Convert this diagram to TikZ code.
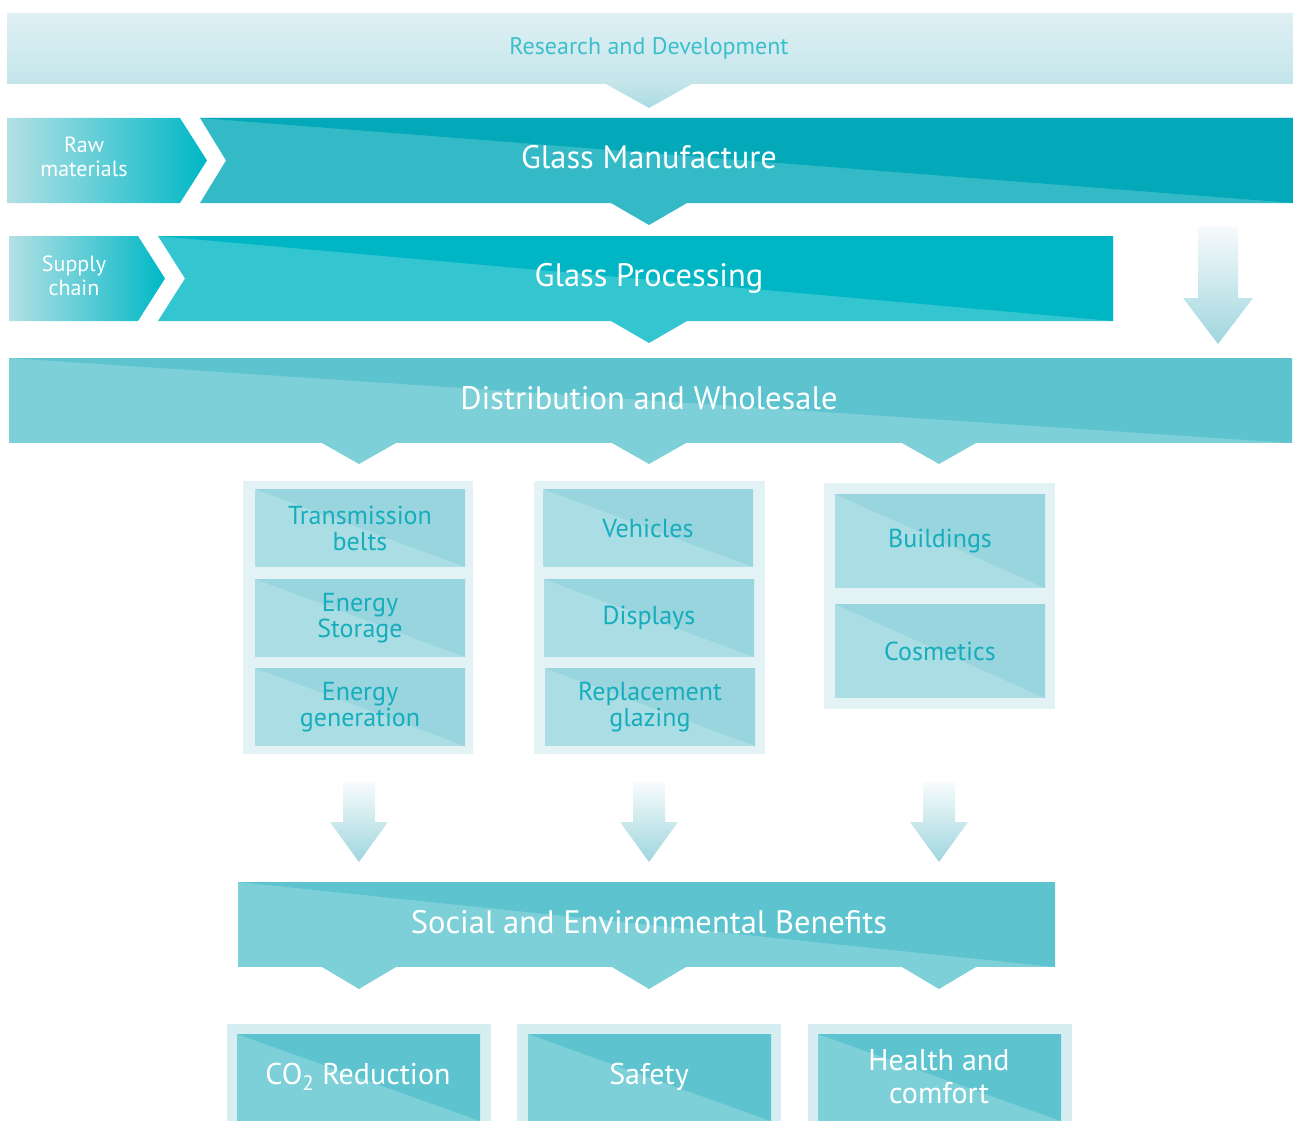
\documentclass[tikz,border=0pt]{standalone}
\usepackage{fontspec}
\setmainfont{PT Sans}
\definecolor{rdtop}{HTML}{DFF0F4}
\definecolor{rdbot}{HTML}{C3E5EA}
\definecolor{rdtext}{HTML}{3CBFCB}
\definecolor{rdtri}{HTML}{A8DBE2}
\definecolor{rawl}{HTML}{B3E0E5}
\definecolor{rawr}{HTML}{00B8C6}
\definecolor{gmdark}{HTML}{04A9B9}
\definecolor{gmlight}{HTML}{33BAC6}
\definecolor{gpdark}{HTML}{00B6C5}
\definecolor{gplight}{HTML}{33C5D0}
\definecolor{dwdark}{HTML}{5DC4CF}
\definecolor{dwlight}{HTML}{7DD0D8}
\definecolor{ibdark}{HTML}{98D5DE}
\definecolor{iblight}{HTML}{ABDDE4}
\definecolor{outerbg}{HTML}{E3F2F5}
\definecolor{outerbg2}{HTML}{D6EEF1}
\definecolor{ibtext}{HTML}{16ADBD}
\definecolor{arrtop}{HTML}{F7FBFC}
\definecolor{arrbot}{HTML}{9FD6DE}
\newcommand\twotone[6]{%
  \fill[#5] (#1,#2) rectangle (#3,#4);
  \fill[#6] (#1,#2) -- (#3,#2) -- (#3,#4) -- cycle;}
\newcommand\downtri[5]{%
  \fill[#5] (#1-#3,#2) -- (#1+#3,#2) -- (#1,#4) -- cycle;}
\newcommand\gradarrow[6]{%
  \shade[top color=arrtop, bottom color=arrbot]
    (#1-#5,#2) -- (#1+#5,#2) -- (#1+#5,#3) -- (#1+#6,#3) -- (#1,#4)
    -- (#1-#6,#3) -- (#1-#5,#3) -- cycle;}
\tikzset{
  bigtxt/.style={text=white, align=center, inner sep=0pt, font=\fontsize{32.5}{34}\selectfont},
  smalltxt/.style={text=white, align=center, inner sep=0pt, font=\fontsize{22}{24}\selectfont},
  rdtxtstyle/.style={text=rdtext, align=center, inner sep=0pt, font=\fontsize{24}{26}\selectfont},
  itemtxt/.style={text=ibtext, align=center, inner sep=0pt, font=\fontsize{26}{26}\selectfont},
  benefittxt/.style={text=white, align=center, inner sep=0pt, font=\fontsize{30}{33}\selectfont},
}
\begin{document}
\begin{tikzpicture}[x=1pt,y=-1pt]
\useasboundingbox (0,0) rectangle (1293,1121);
% Research and development
\shade[top color=rdtop, bottom color=rdbot] (7,14) rectangle (1293,84);
\shade[top color=rdbot, bottom color=rdtri] (606,84) -- (692,84) -- (649,108) -- cycle;
\node[rdtxtstyle] (rd) at (649,48) {Research and Development};
% Raw materials
\shade[left color=rawl, right color=rawr] (7,118) -- (180,118) -- (207,160.5) -- (180,203) -- (7,203) -- cycle;
\node[smalltxt] (raw) at (84,157) {Raw\\materials};
% Glass manufacture
\fill[gmlight] (200,118) -- (1293,118) -- (1293,203) -- (200,203) -- (226,160.5) -- cycle;
\fill[gmdark] (200,118) -- (1293,118) -- (1293,203) -- cycle;
\downtri{649}{203}{38}{225}{gmlight}
\node[bigtxt] (gm) at (649,157) {Glass Manufacture};
% Supply chain
\shade[left color=rawl, right color=rawr] (9,236) -- (138,236) -- (165,278.5) -- (138,321) -- (9,321) -- cycle;
\node[smalltxt] (sc) at (74,276) {Supply\\chain};
% Glass processing
\fill[gplight] (158,236) -- (1113,236) -- (1113,321) -- (158,321) -- (185,278.5) -- cycle;
\fill[gpdark] (158,236) -- (1113,236) -- (1113,321) -- cycle;
\downtri{649}{321}{38}{343}{gplight}
\node[bigtxt] (gp) at (649,278) {Glass Processing};
% right arrow
\gradarrow{1218}{226}{298}{344}{20}{35}
% Distribution and wholesale
\twotone{9}{358}{1292}{443}{dwlight}{dwdark}
\node[bigtxt] (dw) at (649,398) {Distribution and Wholesale};
\downtri{359}{443}{37}{464}{dwlight}
\downtri{649}{443}{37}{464}{dwlight}
\downtri{939}{443}{37}{464}{dwlight}
% Group 1
\fill[outerbg] (243,481) rectangle (473,754);
\twotone{255}{489}{465}{567}{iblight}{ibdark}
\twotone{255}{579}{465}{657}{iblight}{ibdark}
\twotone{255}{668}{465}{746}{iblight}{ibdark}
\node[itemtxt] (tb) at (360,528) {Transmission\\belts};
\node[itemtxt] (es) at (360,618) {Energy\\Storage};
\node[itemtxt] (eg) at (360,707) {Energy\\generation};
% Group 2
\fill[outerbg] (534,481) rectangle (765,754);
\twotone{543}{489}{753}{567}{iblight}{ibdark}
\twotone{544}{579}{754}{657}{iblight}{ibdark}
\twotone{545}{668}{755}{746}{iblight}{ibdark}
\node[itemtxt] (ve) at (648,528) {Vehicles};
\node[itemtxt] (di) at (649,618) {Displays};
\node[itemtxt] (rg) at (650,707) {Replacement\\glazing};
% Group 3
\fill[outerbg] (824,483) rectangle (1055,709);
\twotone{835}{494}{1045}{588}{iblight}{ibdark}
\twotone{835}{604}{1045}{698}{iblight}{ibdark}
\node[itemtxt] (bu) at (940,541) {Buildings};
\node[itemtxt] (co) at (940,651) {Cosmetics};
% gradient arrows
\gradarrow{359}{782}{822}{862}{16}{29}
\gradarrow{649}{782}{822}{862}{16}{29}
\gradarrow{939}{782}{822}{862}{16}{29}
% Social and environmental benefits
\twotone{238}{882}{1055}{967}{dwlight}{dwdark}
\node[bigtxt] (seb) at (649,922) {Social and Environmental Benefits};
\downtri{359}{967}{37}{989}{dwlight}
\downtri{649}{967}{37}{989}{dwlight}
\downtri{939}{967}{37}{989}{dwlight}
% bottom boxes
\fill[outerbg2] (227,1024) rectangle (491,1121);
\twotone{237}{1034}{480}{1121}{dwlight}{dwdark}
\fill[outerbg2] (517,1024) rectangle (781,1121);
\twotone{528}{1034}{771}{1121}{dwlight}{dwdark}
\fill[outerbg2] (808,1024) rectangle (1072,1121);
\twotone{818}{1034}{1061}{1121}{dwlight}{dwdark}
\node[benefittxt] (co2) at (358,1077) {CO\textsubscript{2} Reduction};
\node[benefittxt] (sa) at (649,1077) {Safety};
\node[benefittxt] (hc) at (939,1077) {Health and\\comfort};
\end{tikzpicture}
\end{document}
